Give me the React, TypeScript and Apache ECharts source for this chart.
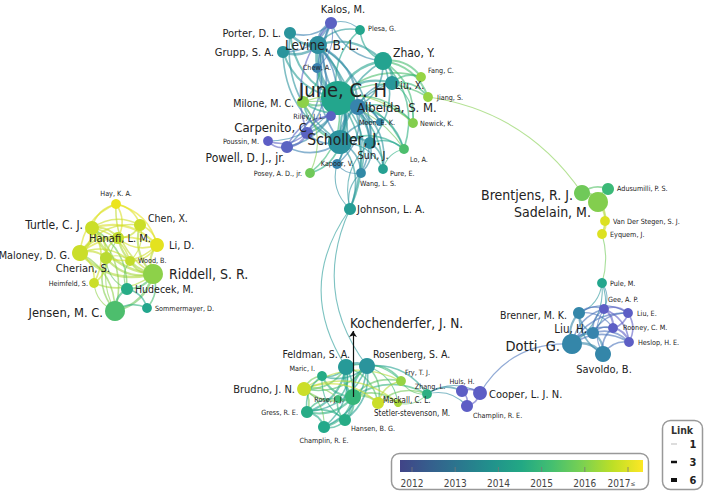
import React, { useEffect, useRef } from 'react';
import * as echarts from 'echarts';

// [id, label, mapX, mapY, documents, avg. publication year]
type NodeRow = [string, string, number, number, number, number];
type LinkRow = [string, string, number];

const juneCluster: NodeRow[] = [
  ['kalos', 'Kalos, M.', 331, 23, 9, 2012.4],
  ['plesa', 'Plesa, G.', 360, 30, 6, 2014.4],
  ['porter', 'Porter, D. L.', 290, 33, 9, 2013.8],
  ['levine', 'Levine, B. L.', 318, 45, 20, 2013.6],
  ['grupp', 'Grupp, S. A.', 283, 52, 9, 2013.8],
  ['chew', 'Chew, A.', 317, 68, 6, 2013.1],
  ['zhao', 'Zhao, Y.', 383, 61, 20, 2014.3],
  ['june', 'June, C. H', 338, 98, 72, 2014.4],
  ['liux', 'Liu, X.', 392, 83, 12, 2013.9],
  ['fang', 'Fang, C.', 421, 77, 6, 2016.0],
  ['jiang', 'Jiang, S.', 428, 97, 6, 2016.0],
  ['milone', 'Milone, M. C.', 303, 102, 9, 2015.9],
  ['albelda', 'Albelda, S. M.', 358, 107, 16, 2013.2],
  ['riley', 'Riley, J. L.', 331, 116, 6, 2012.5],
  ['moon', 'Moon, E. K.', 380, 122, 4, 2013.3],
  ['newick', 'Newick, K.', 413, 123, 6, 2015.8],
  ['carpenito', 'Carpenito, C', 307, 133, 9, 2012.5],
  ['poussin', 'Poussin, M.', 268, 141, 6, 2012.3],
  ['scholler', 'Scholler, J.', 340, 142, 36, 2013.7],
  ['sunj', 'Sun, J.', 370, 143, 9, 2013.6],
  ['loa', 'Lo, A.', 404, 149, 6, 2015.2],
  ['powell', 'Powell, D. J., jr.', 287, 147, 9, 2012.5],
  ['kapoor', 'Kapoor, V.', 337, 164, 6, 2013.2],
  ['pure', 'Pure, E.', 383, 169, 6, 2014.2],
  ['posey', 'Posey, A. D., jr.', 310, 173, 6, 2015.6],
  ['wang', 'Wang, L. S.', 361, 173, 6, 2013.4],
  ['johnson', 'Johnson, L. A.', 350, 209, 9, 2014.1],
];

const sadelainCluster: NodeRow[] = [
  ['brentjens', 'Brentjens, R. J.', 582, 193, 16, 2015.6],
  ['sadelain', 'Sadelain, M.', 598, 202, 25, 2015.8],
  ['adusumilli', 'Adusumilli, P. S.', 608, 189, 9, 2015.0],
  ['vds', 'Van Der Stegen, S. J.', 605, 221, 6, 2016.8],
  ['eyquem', 'Eyquem, J.', 602, 234, 6, 2016.8],
];

const dottiCluster: NodeRow[] = [
  ['pule', 'Pule, M.', 602, 283, 6, 2014.4],
  ['gee', 'Gee, A. P.', 604, 309, 6, 2012.3],
  ['liue', 'Liu, E.', 628, 313, 6, 2012.3],
  ['brenner', 'Brenner, M. K.', 579, 313, 9, 2013.3],
  ['liuh', 'Liu, H.', 593, 333, 9, 2013.2],
  ['rooney', 'Rooney, C. M.', 613, 328, 6, 2012.3],
  ['dotti', 'Dotti, G.', 572, 344, 25, 2013.3],
  ['heslop', 'Heslop, H. E.', 629, 342, 6, 2012.3],
  ['savoldo', 'Savoldo, B.', 603, 354, 16, 2013.3],
];

const rosenbergCluster: NodeRow[] = [
  ['feldman', 'Feldman, S. A.', 346, 367, 16, 2014.0],
  ['rosenberg', 'Rosenberg, S. A.', 367, 366, 16, 2013.8],
  ['maric', 'Maric, I.', 322, 376, 6, 2014.6],
  ['brudno', 'Brudno, J. N.', 304, 389, 12, 2016.6],
  ['fry', 'Fry, T. J.', 401, 381, 6, 2016.0],
  ['zhang', 'Zhang, L.', 427, 394, 6, 2014.7],
  ['stetler', 'Stetler-stevenson, M.', 398, 403, 4, 2016.2],
  ['rose', 'Rose, J. J.', 338, 399, 4, 2015.0],
  ['kochenderfer', 'Kochenderfer, J. N.', 353, 397, 16, 2014.9],
  ['mackall', 'Mackall, C. L.', 378, 403, 9, 2016.6],
  ['gress', 'Gress, R. E.', 307, 412, 9, 2014.6],
  ['hansen', 'Hansen, B. G.', 345, 420, 9, 2014.6],
  ['champlinB', 'Champlin, R. E.', 324, 427, 9, 2014.5],
  ['huls', 'Huls, H.', 462, 391, 9, 2012.3],
  ['cooper', 'Cooper, L. J. N.', 480, 393, 12, 2012.3],
  ['champlinR', 'Champlin, R. E.', 467, 406, 9, 2012.3],
];

const riddellCluster: NodeRow[] = [
  ['hay', 'Hay, K. A.', 116, 204, 6, 2017.0],
  ['chen', 'Chen, X.', 140, 225, 9, 2016.6],
  ['turtle', 'Turtle, C. J.', 92, 228, 12, 2016.6],
  ['hanafi', 'Hanafi, L. M.', 118, 238, 9, 2016.5],
  ['lid', 'Li, D.', 157, 245, 12, 2016.9],
  ['maloney', 'Maloney, D. G.', 80, 253, 16, 2016.6],
  ['wood', 'Wood, B.', 130, 261, 6, 2016.5],
  ['cherian', 'Cherian, S.', 106, 258, 9, 2016.4],
  ['riddell', 'Riddell, S. R.', 153, 274, 25, 2015.9],
  ['heimfeld', 'Heimfeld, S.', 94, 283, 6, 2016.6],
  ['hudecek', 'Hudecek, M.', 127, 289, 9, 2014.6],
  ['jensen', 'Jensen, M. C.', 115, 311, 25, 2015.2],
  ['sommermayer', 'Sommermayer, D.', 147, 308, 6, 2014.4],
];

const juneLinks: LinkRow[] = [
  ['june', 'levine', 6], ['june', 'scholler', 6], ['june', 'albelda', 5], ['june', 'zhao', 4],
  ['june', 'grupp', 3], ['june', 'porter', 3], ['june', 'kalos', 3], ['june', 'liux', 3],
  ['june', 'milone', 3], ['june', 'carpenito', 3], ['june', 'sunj', 3], ['june', 'plesa', 2],
  ['june', 'chew', 2], ['june', 'fang', 2], ['june', 'jiang', 2], ['june', 'riley', 2],
  ['june', 'moon', 2], ['june', 'newick', 2], ['june', 'loa', 2], ['june', 'powell', 2],
  ['june', 'kapoor', 2], ['june', 'pure', 2], ['june', 'posey', 2], ['june', 'wang', 2],
  ['june', 'johnson', 2], ['june', 'poussin', 1],
  ['levine', 'kalos', 4], ['levine', 'porter', 4], ['levine', 'grupp', 4], ['levine', 'plesa', 2],
  ['levine', 'chew', 2], ['levine', 'zhao', 3], ['levine', 'milone', 2], ['levine', 'albelda', 3],
  ['levine', 'scholler', 4], ['levine', 'carpenito', 2], ['levine', 'powell', 2], ['levine', 'johnson', 2],
  ['levine', 'sunj', 2], ['levine', 'riley', 2],
  ['scholler', 'albelda', 3], ['scholler', 'zhao', 2], ['scholler', 'sunj', 3], ['scholler', 'kapoor', 2],
  ['scholler', 'wang', 2], ['scholler', 'pure', 2], ['scholler', 'loa', 2], ['scholler', 'moon', 2],
  ['scholler', 'milone', 2], ['scholler', 'posey', 2], ['scholler', 'powell', 2], ['scholler', 'carpenito', 2],
  ['scholler', 'johnson', 2], ['scholler', 'kalos', 2], ['scholler', 'porter', 2], ['scholler', 'grupp', 2],
  ['scholler', 'liux', 2],
  ['zhao', 'liux', 4], ['zhao', 'fang', 3], ['zhao', 'jiang', 3], ['zhao', 'newick', 2], ['zhao', 'loa', 2],
  ['zhao', 'albelda', 2], ['zhao', 'sunj', 2], ['zhao', 'plesa', 2], ['zhao', 'kalos', 2],
  ['albelda', 'moon', 3], ['albelda', 'newick', 2], ['albelda', 'sunj', 2], ['albelda', 'pure', 2],
  ['albelda', 'wang', 2], ['albelda', 'kapoor', 2], ['albelda', 'loa', 2], ['albelda', 'liux', 2],
  ['albelda', 'milone', 2],
  ['carpenito', 'poussin', 2], ['carpenito', 'powell', 3], ['carpenito', 'riley', 2], ['carpenito', 'kalos', 2],
  ['powell', 'poussin', 2], ['powell', 'riley', 2],
  ['kalos', 'porter', 2], ['kalos', 'plesa', 1], ['kalos', 'grupp', 2], ['kalos', 'chew', 1],
  ['milone', 'posey', 1], ['milone', 'loa', 1], ['milone', 'newick', 1],
  ['johnson', 'kapoor', 1], ['johnson', 'wang', 1], ['johnson', 'sunj', 1],
  ['liux', 'fang', 2], ['liux', 'jiang', 2], ['liux', 'newick', 1],
  ['sunj', 'loa', 2], ['sunj', 'pure', 2], ['sunj', 'wang', 2], ['wang', 'kapoor', 1], ['pure', 'loa', 1],
];

const sadelainLinks: LinkRow[] = [
  ['brentjens', 'sadelain', 6], ['brentjens', 'adusumilli', 2], ['sadelain', 'adusumilli', 2],
  ['sadelain', 'vds', 2], ['sadelain', 'eyquem', 2], ['vds', 'eyquem', 2],
];

const dottiLinks: LinkRow[] = [
  ['pule', 'gee', 1], ['pule', 'brenner', 1], ['pule', 'liuh', 1], ['pule', 'dotti', 1],
  ['dotti', 'liuh', 4], ['dotti', 'savoldo', 4], ['dotti', 'brenner', 3], ['dotti', 'gee', 2],
  ['dotti', 'liue', 2], ['dotti', 'rooney', 2], ['dotti', 'heslop', 2],
  ['liuh', 'brenner', 2], ['liuh', 'savoldo', 3], ['liuh', 'gee', 2], ['liuh', 'rooney', 2],
  ['liuh', 'heslop', 2], ['liuh', 'liue', 2],
  ['savoldo', 'brenner', 2], ['savoldo', 'heslop', 2], ['savoldo', 'rooney', 2], ['savoldo', 'gee', 1],
  ['brenner', 'gee', 2], ['brenner', 'liue', 1], ['brenner', 'rooney', 1],
  ['gee', 'liue', 2], ['gee', 'rooney', 3], ['gee', 'heslop', 2],
  ['liue', 'rooney', 2], ['liue', 'heslop', 2], ['rooney', 'heslop', 3],
];

const rosenbergLinks: LinkRow[] = [
  ['kochenderfer', 'feldman', 5], ['kochenderfer', 'rosenberg', 5], ['kochenderfer', 'maric', 3],
  ['kochenderfer', 'brudno', 3], ['kochenderfer', 'fry', 2], ['kochenderfer', 'zhang', 2],
  ['kochenderfer', 'mackall', 3], ['kochenderfer', 'stetler', 2], ['kochenderfer', 'gress', 3],
  ['kochenderfer', 'hansen', 3], ['kochenderfer', 'champlinB', 3], ['kochenderfer', 'rose', 3],
  ['feldman', 'rosenberg', 4], ['feldman', 'maric', 2], ['feldman', 'brudno', 2], ['feldman', 'gress', 3],
  ['feldman', 'hansen', 2], ['feldman', 'champlinB', 2], ['feldman', 'rose', 2], ['feldman', 'mackall', 2],
  ['feldman', 'fry', 1],
  ['rosenberg', 'maric', 2], ['rosenberg', 'brudno', 2], ['rosenberg', 'fry', 2], ['rosenberg', 'zhang', 2],
  ['rosenberg', 'mackall', 2], ['rosenberg', 'stetler', 1], ['rosenberg', 'gress', 2],
  ['rosenberg', 'hansen', 2], ['rosenberg', 'champlinB', 2],
  ['brudno', 'maric', 2], ['brudno', 'gress', 2], ['brudno', 'mackall', 2], ['brudno', 'stetler', 2],
  ['brudno', 'rose', 1], ['brudno', 'fry', 1], ['brudno', 'champlinB', 1],
  ['gress', 'champlinB', 3], ['gress', 'hansen', 2], ['gress', 'maric', 2], ['gress', 'rose', 2],
  ['hansen', 'champlinB', 2], ['hansen', 'rose', 2], ['hansen', 'maric', 1],
  ['mackall', 'fry', 2], ['mackall', 'zhang', 2], ['mackall', 'stetler', 2],
  ['zhang', 'huls', 2], ['zhang', 'cooper', 1], ['zhang', 'champlinR', 1], ['zhang', 'stetler', 1],
  ['zhang', 'fry', 1],
  ['huls', 'cooper', 3], ['huls', 'champlinR', 2], ['cooper', 'champlinR', 2],
];

const riddellLinks: LinkRow[] = [
  ['riddell', 'jensen', 4], ['riddell', 'hudecek', 3], ['riddell', 'turtle', 4], ['riddell', 'maloney', 4],
  ['riddell', 'hanafi', 3], ['riddell', 'cherian', 3], ['riddell', 'lid', 3], ['riddell', 'chen', 3],
  ['riddell', 'hay', 2], ['riddell', 'wood', 2], ['riddell', 'heimfeld', 2], ['riddell', 'sommermayer', 2],
  ['turtle', 'maloney', 4], ['turtle', 'hanafi', 3], ['turtle', 'cherian', 3], ['turtle', 'hay', 2],
  ['turtle', 'chen', 2], ['turtle', 'lid', 3], ['turtle', 'wood', 2], ['turtle', 'heimfeld', 2],
  ['turtle', 'jensen', 2], ['turtle', 'hudecek', 2],
  ['maloney', 'hanafi', 3], ['maloney', 'cherian', 3], ['maloney', 'hay', 2], ['maloney', 'chen', 2],
  ['maloney', 'lid', 2], ['maloney', 'wood', 2], ['maloney', 'heimfeld', 2], ['maloney', 'jensen', 2],
  ['jensen', 'hudecek', 3], ['jensen', 'sommermayer', 2], ['jensen', 'cherian', 2], ['jensen', 'heimfeld', 1],
  ['jensen', 'hanafi', 1],
  ['hudecek', 'sommermayer', 2], ['hudecek', 'cherian', 1], ['hudecek', 'wood', 1],
  ['hay', 'chen', 2], ['hay', 'lid', 2], ['hay', 'hanafi', 2],
  ['chen', 'lid', 2], ['chen', 'hanafi', 2], ['chen', 'wood', 1],
  ['lid', 'hanafi', 2], ['lid', 'wood', 2], ['lid', 'cherian', 2],
  ['cherian', 'heimfeld', 2], ['cherian', 'wood', 1], ['cherian', 'hanafi', 2],
];

// links between clusters: [source, target, strength, curveness]
const bridgeLinks: [string, string, number, number][] = [
  ['jiang', 'brentjens', 1, 0.22],
  ['eyquem', 'pule', 1, 0.15],
  ['dotti', 'cooper', 1, -0.3],
  ['johnson', 'feldman', 1, -0.34],
  ['johnson', 'rosenberg', 1, -0.3],
];

const colorYears = [2012, 2013, 2014, 2015, 2016, 2017];
const linkLegend = [1, 3, 6];

// ---------- styles ----------
const FONT = '"Liberation Sans Narrow", "DejaVu Sans Condensed", "Liberation Sans", sans-serif';
const TEXT = '#222';
const S = 7.2; // small label size

// [align, dx, dy, fontSize]
const labelLayout: Record<string, [string, number, number, number]> = {
  kalos: ['center', 12, -14, 11], plesa: ['left', 8, -2, S], porter: ['right', -9, 0, 11],
  levine: ['center', 4, 0, 13.5], grupp: ['right', -9, 0, 11], chew: ['center', 0, -1, S],
  zhao: ['left', 10, -8, 12], june: ['center', 5, -8, 20], liux: ['left', 3, 2, 10.5],
  fang: ['left', 7, -7, S], jiang: ['left', 9, 0, S], milone: ['right', -9, 1, 10.5],
  albelda: ['left', -1, 0, 13], riley: ['right', -6, 0, S], moon: ['center', -3, 0, S],
  newick: ['left', 7, 0, S], carpenito: ['right', 0, -6, 13], poussin: ['right', -9, 0, S],
  scholler: ['center', 4, -2, 15.5], sunj: ['center', 3, 12, 11], loa: ['left', 6, 10, S],
  powell: ['right', -2, 11, 12], kapoor: ['center', 0, -1, S], pure: ['left', 7, 4, S],
  posey: ['right', -8, 0, S], wang: ['left', -1, 10, S], johnson: ['left', 7, 0, 11.2],
  brentjens: ['right', -9, 2, 14], sadelain: ['right', -7, 10, 14], adusumilli: ['left', 9, -1, S],
  vds: ['left', 8, 0, S], eyquem: ['left', 8, 0, S], pule: ['left', 8, 0, S],
  gee: ['left', 4, -10, S], liue: ['left', 9, 0, S], brenner: ['right', -12, 2, 10.5],
  liuh: ['right', -6, -4, 11.5], rooney: ['left', 10, -1, S], dotti: ['right', -12, 2, 14.5],
  heslop: ['left', 9, 0, S], savoldo: ['center', 1, 15, 11],
  kochenderfer: ['left', -3, -74, 13.5], feldman: ['right', 4, -13, 10.5], rosenberg: ['left', 6, -12, 10.5],
  maric: ['right', -7, -8, S], brudno: ['right', -9, 0, 11], fry: ['left', 4, -9, S],
  zhang: ['center', 3, -8, S], mackall: ['left', 5, -3, 8], stetler: ['left', -24, 10, 8],
  rose: ['center', -9, 0, S], gress: ['right', -9, 0, S], hansen: ['left', 6, 8, S],
  champlinB: ['center', 0, 13, S], huls: ['center', 0, -10, S], cooper: ['left', 9, 1, 11],
  champlinR: ['left', 6, 9, S],
  hay: ['center', 0, -11, S], chen: ['left', 8, -7, 10.5], turtle: ['right', -9, -3, 12],
  hanafi: ['center', 2, 0, 11], lid: ['left', 12, 0, 11], maloney: ['right', -10, 2, 10.8],
  wood: ['left', 8, -1, S], cherian: ['right', 4, 10, 11], riddell: ['left', 16, 0, 14],
  heimfeld: ['right', -6, 0, S], hudecek: ['left', 8, 0, 10.5], jensen: ['right', -12, 1, 12.8],
  sommermayer: ['left', 8, 0, S],
};

const nodeStops: [number, string][] = [
  [2012, '#6157c9'], [2012.5, '#5a63c2'], [2013, '#3d7eb4'], [2013.5, '#2e8ca2'],
  [2014, '#279a98'], [2014.5, '#22a98a'], [2015, '#3bb977'], [2015.5, '#67c65e'],
  [2016, '#96d444'], [2016.5, '#c3dc2c'], [2017, '#ece41c'],
];
const barStops = ['#414487', '#355f8d', '#2a788e', '#21918c', '#22a884', '#44bf70', '#7ad151', '#bddf26', '#fde725'];

function hexRgb(h: string): number[] {
  const n = parseInt(h.slice(1), 16);
  return [(n >> 16) & 255, (n >> 8) & 255, n & 255];
}
function rgbHex(c: number[]): string {
  return '#' + c.map((v) => Math.round(v).toString(16).padStart(2, '0')).join('');
}
function yearColor(y: number): string {
  if (y <= nodeStops[0][0]) return nodeStops[0][1];
  for (let i = 1; i < nodeStops.length; i++) {
    if (y <= nodeStops[i][0]) {
      const [y0, c0] = nodeStops[i - 1];
      const [y1, c1] = nodeStops[i];
      const t = (y - y0) / (y1 - y0);
      const a = hexRgb(c0), b = hexRgb(c1);
      return rgbHex(a.map((v, k) => v + (b[k] - v) * t));
    }
  }
  return nodeStops[nodeStops.length - 1][1];
}

const allNodes = [...juneCluster, ...sadelainCluster, ...dottiCluster, ...rosenbergCluster, ...riddellCluster];
const nodeById: Record<string, NodeRow> = {};
allNodes.forEach((n) => (nodeById[n[0]] = n));

const allLinks: [string, string, number, number][] = [
  ...[...juneLinks, ...sadelainLinks, ...dottiLinks, ...rosenbergLinks, ...riddellLinks].map(
    (l) => [l[0], l[1], l[2], 0.3] as [string, string, number, number]
  ),
  ...bridgeLinks,
];

export default function App() {
  const ref = useRef<HTMLDivElement>(null);
  useEffect(() => {
    if (!ref.current) return;
    const chart = echarts.init(ref.current, undefined, { renderer: 'svg' });

    const nodesData = allNodes.map(([id, name, x, y, docs, year]) => {
      const [align, dx, dy, fs] = labelLayout[id];
      return {
        id,
        name,
        value: [x, y],
        symbolSize: 4 * Math.sqrt(docs),
        itemStyle: { color: yearColor(year) },
        label: {
          show: true,
          position: 'inside',
          align,
          verticalAlign: 'middle',
          offset: [dx, dy],
          fontSize: fs,
          color: TEXT,
          fontFamily: FONT,
          textBorderWidth: 0,
          formatter: '{b}',
        },
      };
    });

    const linksData = allLinks.map(([s, t, w, c]) => {
      const ys = (nodeById[s][5] + nodeById[t][5]) / 2;
      return {
        source: s,
        target: t,
        lineStyle: { color: yearColor(ys), width: 0.6 + 0.5 * w, opacity: 0.6, curveness: c },
      };
    });

    const k = nodeById['kochenderfer'];
    const kl = labelLayout['kochenderfer'];
    const arrowData = [{ coords: [[k[2], k[3]], [k[2], k[3] + kl[2] + 8]] }];

    // colour bar legend (pixel layout)
    const yearX = (yr: number) => 412 + (yr - colorYears[0]) * 43.2;
    const graphic: any[] = [
      { type: 'rect', shape: { x: 391.5, y: 453.5, width: 257, height: 36, r: 8 }, style: { fill: '#fff', stroke: '#999', lineWidth: 1.5 }, z: 10 },
      {
        type: 'rect', shape: { x: 400, y: 460, width: 243, height: 12 }, z: 11,
        style: {
          fill: new echarts.graphic.LinearGradient(0, 0, 1, 0,
            barStops.map((c, i) => ({ offset: i / (barStops.length - 1), color: c }))),
        },
      },
    ];
    colorYears.forEach((yr, i) => {
      const x = yearX(yr);
      graphic.push({ type: 'line', shape: { x1: x, y1: 467, x2: x, y2: 472 }, style: { stroke: 'rgba(120,120,120,0.8)', lineWidth: 1 }, z: 12 });
      const last = i === colorYears.length - 1;
      graphic.push({
        type: 'text', x: last ? x - 9 : x, y: 483, z: 12,
        style: { text: String(yr), align: 'center', verticalAlign: 'middle', fontSize: 10, fill: '#444', fontFamily: FONT },
      });
      if (last) {
        graphic.push({ type: 'text', x: x + 5, y: 484, z: 12, style: { text: '≤', align: 'center', verticalAlign: 'middle', fontSize: 6.5, fill: '#444', fontFamily: FONT } });
      }
    });
    // link legend
    graphic.push({ type: 'rect', shape: { x: 662.5, y: 420.5, width: 40, height: 69, r: 8 }, style: { fill: '#fff', stroke: '#999', lineWidth: 1.5 }, z: 10 });
    graphic.push({ type: 'text', x: 682, y: 430, z: 12, style: { text: 'Link', align: 'center', verticalAlign: 'middle', fontSize: 10.5, fontWeight: 'bold', fill: '#333', fontFamily: FONT } });
    linkLegend.forEach((w, i) => {
      const y = 444 + i * 18;
      graphic.push({ type: 'line', shape: { x1: 671, y1: y, x2: 677, y2: y }, style: { stroke: i === 0 ? '#bbb' : '#111', lineWidth: i === 0 ? 1 : 1 + w * 0.5 }, z: 12 });
      graphic.push({ type: 'text', x: 693, y, z: 12, style: { text: String(w), align: 'center', verticalAlign: 'middle', fontSize: 11, fontWeight: 'bold', fill: '#222', fontFamily: FONT } });
    });

    chart.setOption({
      animation: false,
      backgroundColor: '#fff',
      grid: { left: 0, right: 0, top: 0, bottom: 0 },
      xAxis: { type: 'value', min: 0, max: 708, show: false },
      yAxis: { type: 'value', min: 0, max: 496, inverse: true, show: false },
      series: [
        {
          type: 'graph',
          layout: 'none',
          coordinateSystem: 'cartesian2d',
          data: nodesData,
          links: linksData,
          label: { color: TEXT, fontFamily: FONT },
          emphasis: { disabled: true },
          z: 2,
        },
        {
          type: 'lines',
          coordinateSystem: 'cartesian2d',
          data: arrowData,
          symbol: ['none', 'arrow'],
          symbolSize: 6,
          lineStyle: { color: '#111', width: 1.2, opacity: 1, curveness: 0 },
          z: 3,
        },
      ],
      graphic,
    });
    return () => chart.dispose();
  }, []);
  return <div ref={ref} style={{ position: 'fixed', left: 0, top: 0, width: 708, height: 496 }} />;
}
